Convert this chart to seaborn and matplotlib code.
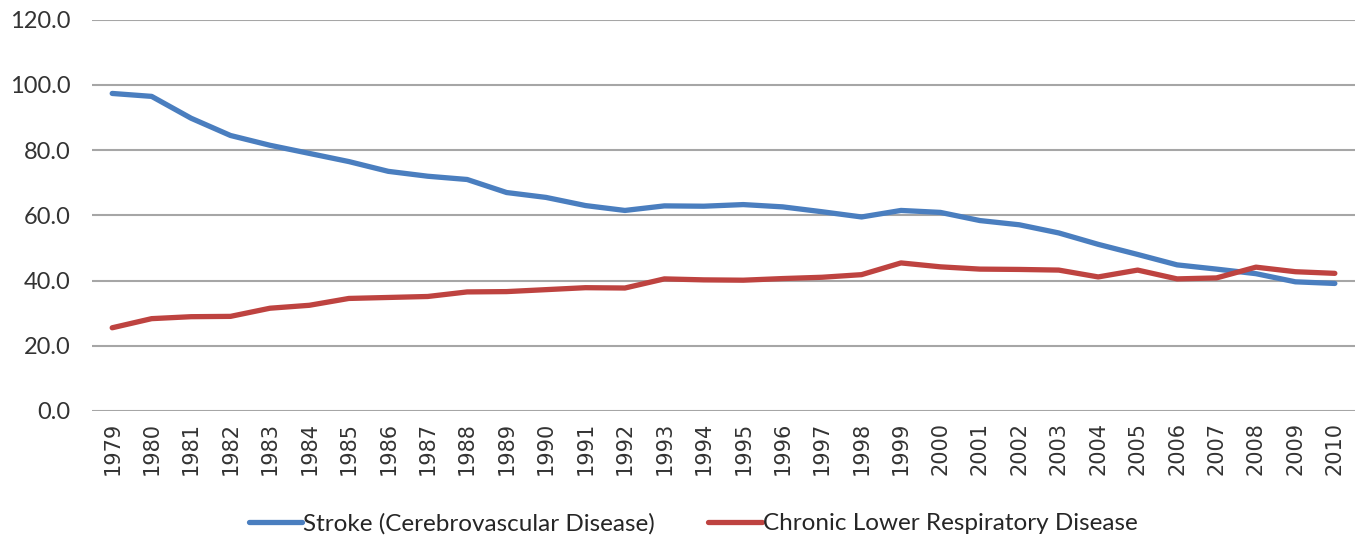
import matplotlib
matplotlib.use("Agg")
import matplotlib.pyplot as plt
from matplotlib.font_manager import FontProperties
import pandas as pd
import seaborn as sns

years = list(range(1979, 2011))
stroke = [97.4, 96.5, 89.8, 84.5, 81.5, 79.0, 76.5, 73.5, 72.0, 71.0,
          67.0, 65.5, 63.0, 61.5, 62.9, 62.8, 63.3, 62.6, 61.1, 59.5,
          61.5, 60.9, 58.4, 57.1, 54.6, 51.1, 48.0, 44.8, 43.5, 42.1,
          39.6, 39.1]
clrd = [25.5, 28.3, 28.9, 29.0, 31.5, 32.4, 34.5, 34.8, 35.1, 36.5,
        36.6, 37.2, 37.8, 37.7, 40.5, 40.2, 40.1, 40.6, 41.0, 41.8,
        45.4, 44.2, 43.5, 43.4, 43.2, 41.1, 43.2, 40.5, 40.8, 44.1,
        42.7, 42.2]
series_names = ["Stroke (Cerebrovascular Disease)", "Chronic Lower Respiratory Disease"]
y_ticks = [0, 20, 40, 60, 80, 100, 120]

sns.set_theme(style="white")
plt.rcParams['font.family'] = ['DejaVu Sans']
y_font = FontProperties(family=['Lato', 'DejaVu Sans'], size=17)
x_font = FontProperties(family=['DejaVu Sans'], size=15)
legend_font = FontProperties(family=['Lato', 'DejaVu Sans'], size=17.5)

df = pd.DataFrame({
    "idx": list(range(len(years))) * 2,
    "value": stroke + clrd,
    "series": [series_names[0]] * len(years) + [series_names[1]] * len(years),
})

fig = plt.figure(figsize=(13.6, 5.35), dpi=100)
ax = fig.add_axes([0.068, 0.232, 0.928, 0.731])

sns.lineplot(data=df, x="idx", y="value", hue="series", palette=["#4A7EBF", "#BE4340"],
             linewidth=3.8, ax=ax, legend=True)

ax.set_ylim(0, 120)
ax.set_xlim(-0.5, len(years) - 0.5)
ax.set_yticks(y_ticks)
ax.set_yticklabels([f"{v:.1f}" for v in y_ticks], color="#333333", fontproperties=y_font)
ax.set_xticks(range(len(years)))
ax.set_xticklabels([str(y) for y in years], rotation=90, color="#333333", fontproperties=x_font)
ax.tick_params(axis="y", length=0, pad=16)
ax.tick_params(axis="x", length=0, pad=8)
ax.grid(axis="y", color="#A6A6A6", linewidth=1.5)
ax.set_axisbelow(True)
for s in ax.spines.values():
    s.set_visible(False)
ax.set_xlabel("")
ax.set_ylabel("")

ax.legend(title=None, loc="upper center", bbox_to_anchor=(0.476, -0.205), ncol=2,
          frameon=False, prop=legend_font, handlelength=2.2,
          handletextpad=0.05, columnspacing=2.2)

fig.savefig("out.png", dpi=100)
